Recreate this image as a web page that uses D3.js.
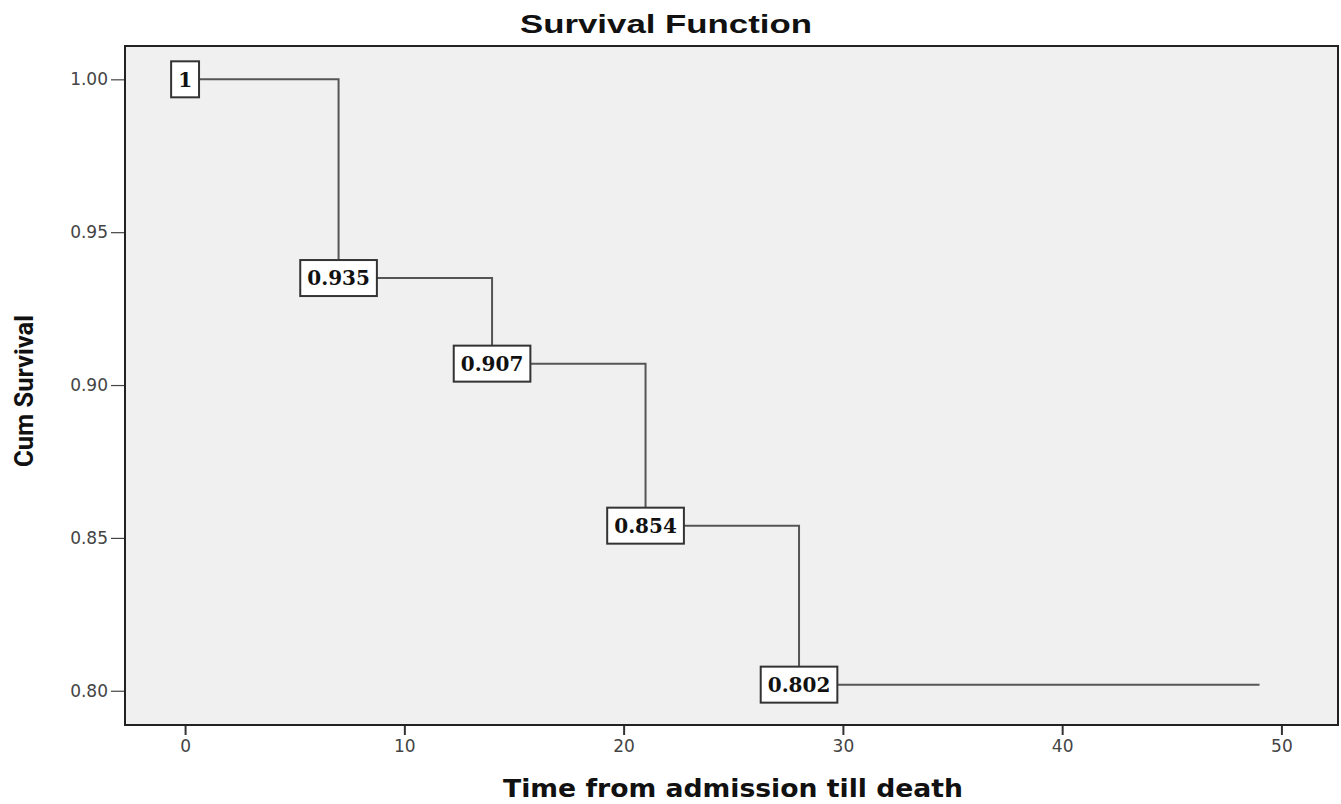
<!DOCTYPE html>
<html>
<head>
<meta charset="utf-8">
<script src="https://cdn.jsdelivr.net/npm/d3@7"></script>
<style>
  body { margin: 0; background: #fff; }
  svg { display: block; }
</style>
</head>
<body>
<div id="chart"></div>
<script>
// step times and survival values (Kaplan-Meier)
const times = [0, 7, 14, 21, 28];
const survival = [1, 0.935, 0.907, 0.854, 0.802];
const labels = ["1", "0.935", "0.907", "0.854", "0.802"];
const lastTime = 49;
const xTicks = [0, 10, 20, 30, 40, 50];
const yTicks = [0.80, 0.85, 0.90, 0.95, 1.00];

const W = 1341, H = 804;
const plot = { left: 125, right: 1338, top: 46, bottom: 725 };

const svg = d3.select("#chart").append("svg")
    .attr("width", W)
    .attr("height", H);

const x = d3.scaleLinear().domain([-2.74, 52.58]).range([plot.left, plot.right]);
const y = d3.scaleLinear().domain([0.7888, 1.0109]).range([plot.bottom, plot.top]);

// background panel
svg.append("rect")
    .attr("x", plot.left).attr("y", plot.top)
    .attr("width", plot.right - plot.left)
    .attr("height", plot.bottom - plot.top)
    .attr("fill", "#f0f0f0");

// axes
const yAxis = svg.append("g")
    .attr("transform", `translate(${plot.left},0)`)
    .call(d3.axisLeft(y).tickValues(yTicks).tickFormat(d3.format(".2f")).tickSize(14).tickPadding(3));
yAxis.select(".domain").remove();
yAxis.selectAll("line").attr("stroke", "#444").attr("stroke-width", 1.2);
yAxis.selectAll("text")
    .attr("fill", "#444")
    .attr("font-family", "DejaVu Sans, Verdana, sans-serif")
    .attr("font-size", 17);

const xAxis = svg.append("g")
    .attr("transform", `translate(0,${plot.bottom})`)
    .call(d3.axisBottom(x).tickValues(xTicks).tickSize(10).tickPadding(5));
xAxis.select(".domain").remove();
xAxis.selectAll("line").attr("stroke", "#333").attr("stroke-width", 2);
xAxis.selectAll("text")
    .attr("fill", "#444")
    .attr("font-family", "DejaVu Sans, Verdana, sans-serif")
    .attr("font-size", 17);

// frame
svg.append("rect")
    .attr("x", plot.left).attr("y", plot.top)
    .attr("width", plot.right - plot.left)
    .attr("height", plot.bottom - plot.top)
    .attr("fill", "none")
    .attr("stroke", "#222")
    .attr("stroke-width", 2);

// step line
const pts = times.map((t, i) => [t, survival[i]]);
pts.push([lastTime, survival[survival.length - 1]]);

const line = d3.line()
    .x(d => x(d[0]))
    .y(d => y(d[1]))
    .curve(d3.curveStepAfter);

svg.append("path")
    .datum(pts)
    .attr("d", line)
    .attr("fill", "none")
    .attr("stroke", "#555")
    .attr("stroke-width", 2);

// value labels in boxes
const lab = svg.selectAll(".lab")
    .data(times.map((t, i) => ({ t: t, v: survival[i], s: labels[i] })))
    .enter()
    .append("g")
    .attr("class", "lab")
    .attr("transform", d => `translate(${x(d.t)},${y(d.v)})`);

lab.append("rect").attr("fill", "#fff").attr("stroke", "#333").attr("stroke-width", 2);
lab.append("text")
    .attr("text-anchor", "middle")
    .attr("dy", "0.36em")
    .style("font-family", "DejaVu Serif, serif")
    .style("font-weight", "bold")
    .style("font-size", "20px")
    .attr("fill", "#111")
    .text(d => d.s);

lab.each(function () {
    const g = d3.select(this);
    const bb = g.select("text").node().getBBox();
    g.select("rect")
        .attr("x", -bb.width / 2 - 7)
        .attr("y", -18)
        .attr("width", bb.width + 14)
        .attr("height", 36);
});

// titles
svg.append("text")
    .attr("x", 666).attr("y", 33)
    .attr("text-anchor", "middle")
    .attr("textLength", 292)
    .attr("lengthAdjust", "spacingAndGlyphs")
    .style("font-family", "Liberation Sans, Arial, sans-serif")
    .style("font-weight", "bold")
    .style("font-size", "25px")
    .attr("fill", "#111")
    .text("Survival Function");

svg.append("text")
    .attr("x", 733).attr("y", 797)
    .attr("text-anchor", "middle")
    .attr("textLength", 460)
    .attr("lengthAdjust", "spacingAndGlyphs")
    .style("font-family", "DejaVu Sans, Verdana, sans-serif")
    .style("font-weight", "bold")
    .style("font-size", "24px")
    .attr("fill", "#111")
    .text("Time from admission till death");

svg.append("text")
    .attr("transform", "translate(33,391) rotate(-90)")
    .attr("text-anchor", "middle")
    .attr("textLength", 152)
    .attr("lengthAdjust", "spacingAndGlyphs")
    .style("font-family", "Roboto, sans-serif")
    .style("font-weight", "bold")
    .style("font-size", "25px")
    .attr("fill", "#111")
    .text("Cum Survival");
</script>
</body>
</html>
